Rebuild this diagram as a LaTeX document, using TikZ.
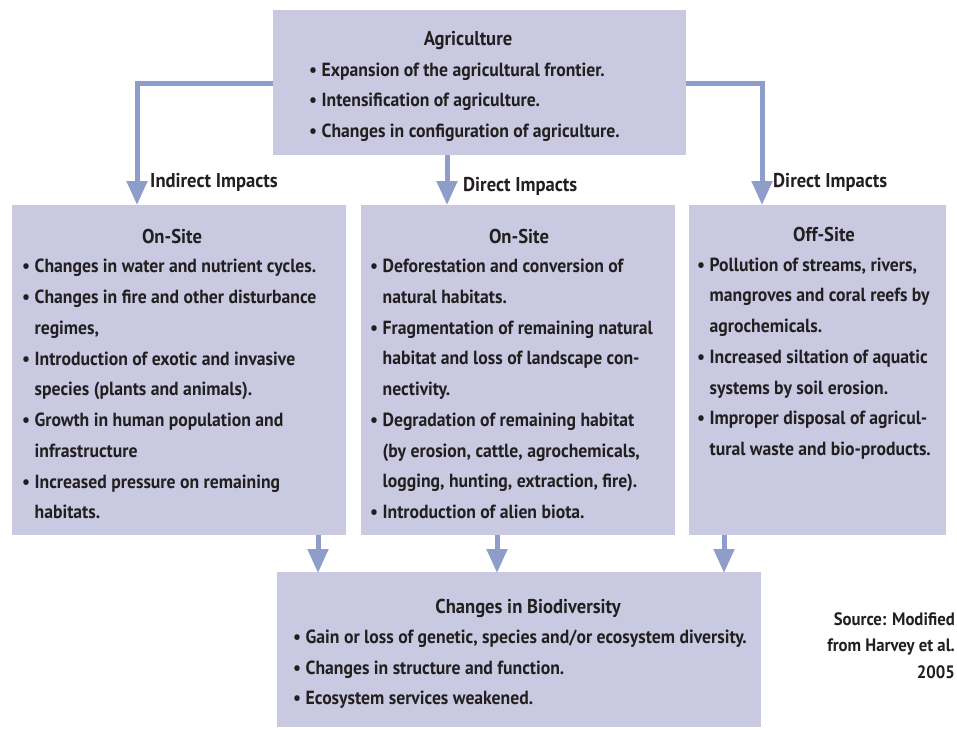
\documentclass[tikz,border=0pt]{standalone}
\usepackage{fontspec}
\setmainfont{PT Sans}[BoldFont={* Bold}]
\usetikzlibrary{arrows.meta}
\definecolor{boxfill}{HTML}{C9C9E1}
\definecolor{flow}{HTML}{8E9DC9}
\definecolor{ink}{HTML}{231F20}
\newcommand{\itm}{\textbullet\ }
\newcommand{\cnt}{\phantom{\textbullet\ }}
\begin{document}
\begin{tikzpicture}[x=1pt,y=-1pt,
  panel/.style={fill=boxfill,draw=none,inner sep=0pt},
  txt/.style={text=ink,inner sep=0pt,align=left,anchor=north west,
    font=\addfontfeature{FakeStretch=0.93}\fontsize{19}{30.75}\selectfont\bfseries},
  ttl/.style={text=ink,inner sep=0pt,anchor=base,
    font=\addfontfeature{FakeStretch=0.93}\fontsize{20}{22}\selectfont\bfseries},
  lbl/.style={text=ink,inner sep=0pt,anchor=base west,
    font=\addfontfeature{FakeStretch=0.93}\fontsize{20}{22}\selectfont\bfseries},
  flowline/.style={draw=flow,line width=5pt,-{Triangle[length=24pt,width=20pt]}}]
\useasboundingbox (0,0) rectangle (957,729);

% boxes
\path[panel] (273,10) rectangle (686,155);
\path[panel] (12,205) rectangle (346,535);
\path[panel] (361,205) rectangle (675,535);
\path[panel] (689,205) rectangle (946,535);
\path[panel] (277,572) rectangle (761,727);

% named points on the box edges
\coordinate (agriW) at (273,83);
\coordinate (agriE) at (686,83);
\coordinate (agriS) at (447,155);
\coordinate (leftN) at (137,205);
\coordinate (midN) at (447,205);
\coordinate (rightN) at (762,205);
\coordinate (leftS) at (318,535);
\coordinate (midS) at (497,535);
\coordinate (rightS) at (724,535);
\coordinate (bioA) at (318,573);
\coordinate (bioB) at (497,573);
\coordinate (bioC) at (724,573);

% connectors
\draw[flowline] (agriW) -| (leftN);
\draw[flowline] (agriS) -- (midN);
\draw[flowline] (agriE) -| (rightN);
\draw[flowline] (leftS) -- (bioA);
\draw[flowline] (midS) -- (bioB);
\draw[flowline] (rightS) -- (bioC);

% connector labels
\node[lbl] (lblL) at (150,187) {Indirect Impacts};
\node[lbl] (lblM) at (463,191) {Direct Impacts};
\node[lbl] (lblR) at (773,187) {Direct Impacts};

% Agriculture
\node[ttl] (agriT) at (468,45) {Agriculture};
\node[txt] (agriL) at (309,62.5) {\itm Expansion of the agricultural frontier.\\
\itm Intensification of agriculture.\\
\itm Changes in configuration of agriculture.};

% left panel
\node[ttl] (leftT) at (172,243) {On-Site};
\node[txt] (leftL) at (22,259) {\itm Changes in water and nutrient cycles.\\
\itm Changes in fire and other disturbance\\
\cnt regimes,\\
\itm Introduction of exotic and invasive\\
\cnt species (plants and animals).\\
\itm Growth in human population and\\
\cnt infrastructure\\
\itm Increased pressure on remaining\\
\cnt habitats.};

% middle panel
\node[ttl] (midT) at (519,243) {On-Site};
\node[txt] (midL) at (370,259) {\itm Deforestation and conversion of\\
\cnt natural habitats.\\
\itm Fragmentation of remaining natural\\
\cnt habitat and loss of landscape con-\\
\cnt nectivity.\\
\itm Degradation of remaining habitat\\
\cnt (by erosion, cattle, agrochemicals,\\
\cnt logging, hunting, extraction, fire).\\
\itm Introduction of alien biota.};

% right panel
\node[ttl] (rightT) at (824,241) {Off-Site};
\node[txt] (rightL) at (697,257.5) {\itm Pollution of streams, rivers,\\
\cnt mangroves and coral reefs by\\
\cnt agrochemicals.\\
\itm Increased siltation of aquatic\\
\cnt systems by soil erosion.\\
\itm Improper disposal of agricul-\\
\cnt tural waste and bio-products.};

% bottom panel
\node[ttl] (bioT) at (528,613) {Changes in Biodiversity};
\node[txt] (bioL) at (293,629.5) {\itm Gain or loss of genetic, species and/or ecosystem diversity.\\
\itm Changes in structure and function.\\
\itm Ecosystem services weakened.};

% source note
\node[txt,anchor=north east,align=right,
  font=\addfontfeature{FakeStretch=0.93}\fontsize{18}{26.5}\selectfont\bfseries]
  (src) at (955,612) {Source: Modified\\from Harvey et al.\\2005};
\end{tikzpicture}
\end{document}
